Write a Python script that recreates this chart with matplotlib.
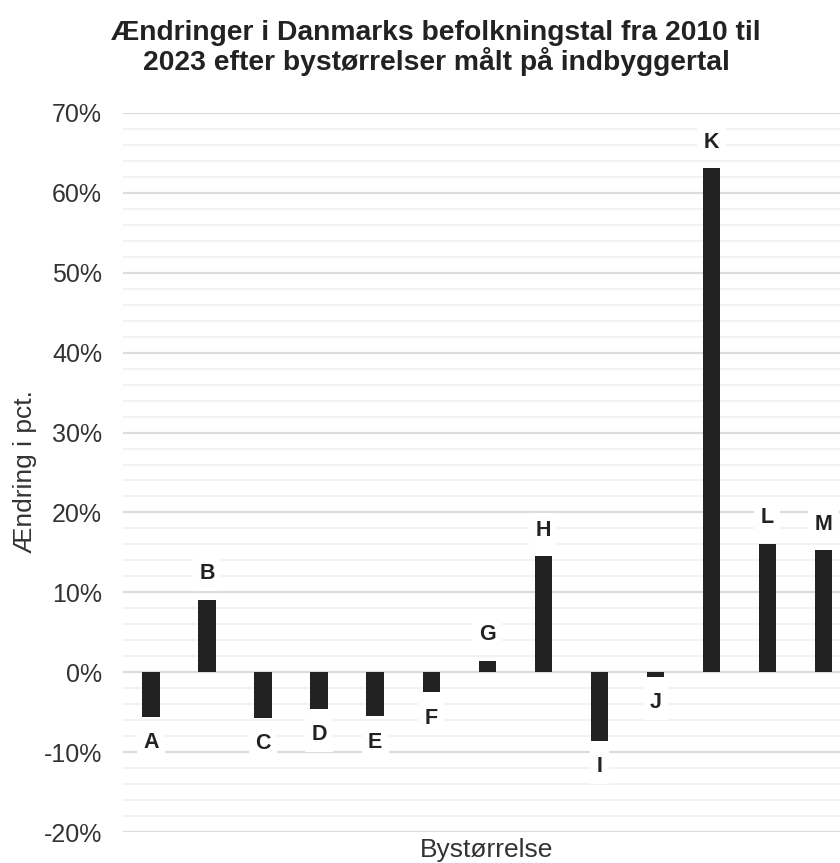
import matplotlib
matplotlib.use("Agg")
import matplotlib.pyplot as plt
import numpy as np
from matplotlib.ticker import MultipleLocator, FuncFormatter

categories = ["A", "B", "C", "D", "E", "F", "G", "H", "I", "J", "K", "L", "M"]
values = [-5.6, 9.1, -5.7, -4.6, -5.5, -2.5, 1.45, 14.5, -8.6, -0.6, 63.1, 16.1, 15.3]
yticks = [-20, -10, 0, 10, 20, 30, 40, 50, 60, 70]

title = "Ændringer i Danmarks befolkningstal fra 2010 til\n2023 efter bystørrelser målt på indbyggertal"
ylabel = "Ændring i pct."
xlabel = "Bystørrelse"

plt.rcParams['font.family'] = ['Liberation Sans', 'DejaVu Sans']

W, H = 840, 863
fig = plt.figure(figsize=(W / 100, H / 100), dpi=100)
fig.patch.set_facecolor("white")

left, right, top, bottom = 123, 851.5, 113, 832
ax = fig.add_axes([left / W, 1 - bottom / H, (right - left) / W, (bottom - top) / H])

x = np.arange(len(categories))
ax.bar(x, values, width=0.31, color="#222222", zorder=3)

ax.set_xlim(-0.5, len(categories) - 0.5)
ax.set_ylim(-20, 70)
ax.set_yticks(yticks)
ax.yaxis.set_minor_locator(MultipleLocator(2))
ax.yaxis.set_major_formatter(FuncFormatter(lambda v, p: f"{v:.0f}%"))
ax.set_xticks([])
for s in ax.spines.values():
    s.set_visible(False)
ax.tick_params(axis="y", which="both", length=0, labelsize=18, colors="#333333", pad=15)
ax.grid(axis="y", which="major", color="#dcdcdc", linewidth=1.6, zorder=0)
ax.grid(axis="y", which="minor", color="#f1f1f1", linewidth=1.3, zorder=0)
ax.set_axisbelow(True)

off = 3.25
for xi, v, c in zip(x, values, categories):
    yy = v + off if v >= 0 else v - off
    ax.text(xi, yy, c, ha="center", va="center", fontsize=15.5, fontweight="bold",
            color="#222222", zorder=4,
            bbox=dict(boxstyle="square,pad=0.3", facecolor="white", edgecolor="none"))

fig.text(436 / W, 1 - 48 / H, title, ha="center", va="center", fontsize=20.3,
         fontweight="bold", color="#222222", linespacing=1.08)
fig.text(25 / W, 1 - 472 / H, ylabel, rotation=90, ha="center", va="center",
         fontsize=19, color="#333333")
fig.text(487 / W, 1 - 850 / H, xlabel, ha="center", va="center",
         fontsize=19, color="#333333")

fig.savefig("out.png", dpi=100, facecolor="white")
